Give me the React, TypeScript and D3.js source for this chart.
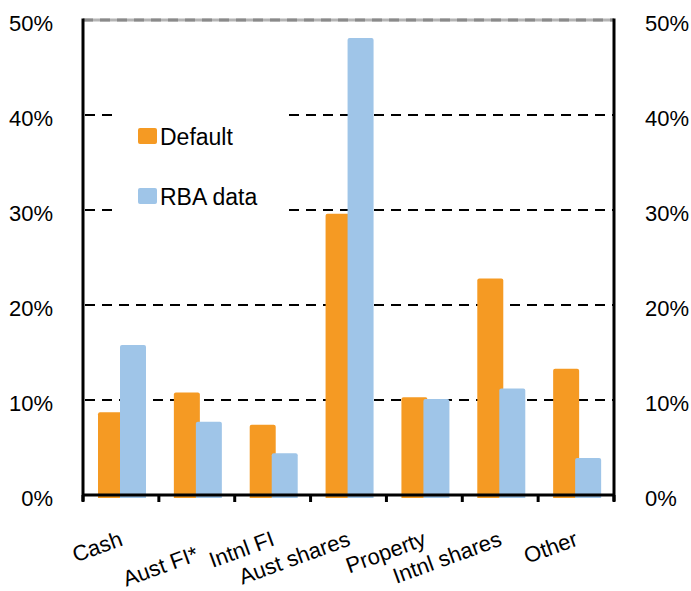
import React from "react";
import * as d3 from "d3";

const categories = ["Cash", "Aust FI*", "Intnl FI", "Aust shares", "Property", "Intnl shares", "Other"];
const defaultValues = [8.7, 10.8, 7.4, 29.6, 10.3, 22.8, 13.3];
const rbaValues = [15.8, 7.7, 4.4, 48.1, 10.1, 11.2, 3.9];
const yTicks = [0, 10, 20, 30, 40, 50];
const seriesNames = ["Default", "RBA data"];

const W = 691;
const H = 591;
const left = 83;
const right = 614;
const top = 20;
const bottom = 495;

const ORANGE = "#F59A23";
const BLUE = "#9FC5E8";
const FONT = "'Liberation Sans', Arial, sans-serif";

export default function App() {
  const x = d3.scaleBand<string>().domain(categories).range([left, right]).padding(0);
  const y = d3.scaleLinear().domain([0, 50]).range([bottom, top]);
  const bw = x.bandwidth();
  const barW = 26;
  const orangeOff = 15;
  const blueOff = 37;
  const boundaries = d3.range(categories.length + 1).map((i) => left + i * bw);

  const barPath = (x0: number, v: number) => {
    const yt = y(v);
    const yb = bottom + 3;
    const r = 2;
    return `M${x0},${yb} L${x0},${yt + r} Q${x0},${yt} ${x0 + r},${yt} L${x0 + barW - r},${yt} Q${x0 + barW},${yt} ${x0 + barW},${yt + r} L${x0 + barW},${yb} Z`;
  };

  const legendY = [136, 196];

  return (
    <svg
      width={W}
      height={H}
      style={{ position: "absolute", left: 0, top: 0, background: "#fff" }}
      fontFamily={FONT}
    >
      <rect x={0} y={0} width={W} height={H} fill="#fff" />
      {/* top border: light grey with darker dashes */}
      <line x1={left} x2={right} y1={y(50)} y2={y(50)} stroke="#b4b4b4" strokeWidth={3} />
      <line x1={left} x2={right} y1={y(50)} y2={y(50)} stroke="#8a8a8a" strokeWidth={3} strokeDasharray="10,7" />
      {/* dashed gridlines */}
      {yTicks
        .filter((t) => t > 0 && t < 50)
        .map((t) => (
          <line
            key={t}
            x1={left + 2}
            x2={right}
            y1={y(t)}
            y2={y(t)}
            stroke="#000"
            strokeWidth={2}
            strokeDasharray="10,7"
          />
        ))}
      {/* legend background */}
      <rect x={112} y={100} width={172} height={125} fill="#fff" />
      {/* bars */}
      {categories.map((c, i) => (
        <g key={c}>
          <path d={barPath((x(c) as number) + orangeOff, defaultValues[i])} fill={ORANGE} />
          <path d={barPath((x(c) as number) + blueOff, rbaValues[i])} fill={BLUE} />
        </g>
      ))}
      {/* axes */}
      <line x1={left} x2={left} y1={top - 1.5} y2={bottom + 6} stroke="#000" strokeWidth={3} />
      <line x1={right} x2={right} y1={top - 1.5} y2={bottom + 6} stroke="#000" strokeWidth={3} />
      <line x1={left} x2={right} y1={bottom} y2={bottom} stroke="#000" strokeWidth={3} />
      {boundaries.map((bx, i) => (
        <line key={i} x1={bx} x2={bx} y1={bottom} y2={bottom + 7} stroke="#000" strokeWidth={3} />
      ))}
      {/* y tick labels, both sides */}
      {yTicks.map((t) => (
        <g key={t} fontSize={22} fill="#000">
          <text x={left - 30} y={y(t) + 11} textAnchor="end">
            {t}%
          </text>
          <text x={right + 31} y={y(t) + 11} textAnchor="start">
            {t}%
          </text>
        </g>
      ))}
      {/* category labels */}
      {categories.map((c) => {
        const cx = (x(c) as number) + bw / 2 + 3;
        const dy = c.endsWith("*") ? 15 : 0;
        return (
          <text
            key={c}
            transform={`translate(${cx},${545 + dy}) rotate(-20)`}
            textAnchor="end"
            fontSize={22}
            fill="#000"
          >
            {c}
          </text>
        );
      })}
      {/* legend */}
      {seriesNames.map((s, i) => (
        <g key={s}>
          <rect x={138} y={legendY[i] - 8} width={19} height={16} rx={2} fill={i === 0 ? ORANGE : BLUE} />
          <text x={160} y={legendY[i] + 9} fontSize={23} fill="#000">
            {s}
          </text>
        </g>
      ))}
    </svg>
  );
}
